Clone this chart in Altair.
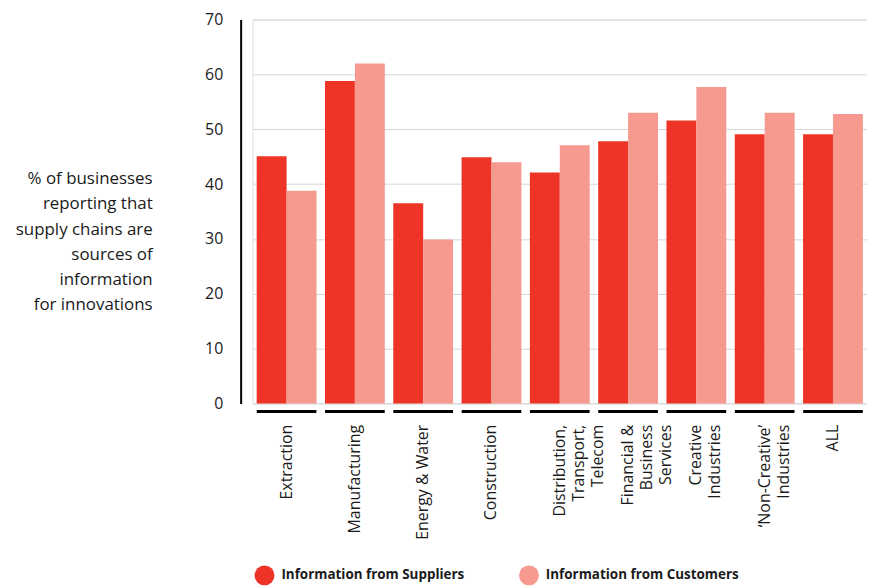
import altair as alt
import pandas as pd

categories = [
    "Extraction",
    "Manufacturing",
    "Energy & Water",
    "Construction",
    "Distribution,\nTransport,\nTelecom",
    "Financial &\nBusiness\nServices",
    "Creative\nIndustries",
    "\u2018Non-Creative\u2019\nIndustries",
    "ALL",
]
suppliers = [45.1, 58.8, 36.5, 44.9, 42.1, 47.8, 51.6, 49.1, 49.1]
customers = [38.8, 62.0, 29.9, 44.0, 47.1, 53.0, 57.7, 53.0, 52.8]
series_names = ["Information from Suppliers", "Information from Customers"]
series_colors = ["#EE3427", "#F6998F"]
y_ticks = [0, 10, 20, 30, 40, 50, 60, 70]
y_title = [
    "% of businesses",
    "reporting that",
    "supply chains are",
    "sources of",
    "information",
    "for innovations",
]

rows = []
for i, c in enumerate(categories):
    rows.append({"cat": c, "series": series_names[0], "order": 0, "value": suppliers[i]})
    rows.append({"cat": c, "series": series_names[1], "order": 1, "value": customers[i]})
df = pd.DataFrame(rows)

FONT = "Open Sans"

x_enc = alt.X(
    "cat:N",
    sort=categories,
    scale=alt.Scale(paddingInner=0.124, paddingOuter=0.06),
    axis=alt.Axis(
        title=None,
        labelAngle=-90,
        labelAlign="right",
        labelBaseline="middle",
        labelPadding=21,
        labelFontSize=16,
        labelLineHeight=19,
        labelColor="#1a1a1a",
        labelFont=FONT,
        labelExpr="split(datum.label, '\\n')",
        domain=False,
        ticks=False,
        grid=False,
    ),
)

bars = alt.Chart(df).mark_bar().encode(
    x=x_enc,
    xOffset=alt.XOffset("series:N", sort=series_names, scale=alt.Scale(paddingInner=0, paddingOuter=0)),
    y=alt.Y(
        "value:Q",
        scale=alt.Scale(domain=[0, 70], nice=False),
        axis=alt.Axis(
            values=y_ticks,
            title=y_title,
            titleAngle=0,
            titleAlign="right",
            titleBaseline="middle",
            titleX=-89,
            titleY=160,
            titleFontSize=17,
            titleFontWeight="normal",
            titleLineHeight=25.4,
            titleFont=FONT,
            titleColor="#1a1a1a",
            labelFontSize=16,
            labelFont=FONT,
            labelColor="#1a1a1a",
            labelPadding=18,
            offset=12,
            domainColor="#000000",
            domainWidth=2,
            ticks=False,
            gridColor="#d6d6d6",
            gridWidth=1,
        ),
    ),
    color=alt.Color(
        "series:N",
        sort=series_names,
        scale=alt.Scale(domain=series_names, range=series_colors),
        legend=alt.Legend(
            orient="none",
            legendX=2,
            legendY=549,
            direction="horizontal",
            title=None,
            symbolType="circle",
            symbolSize=400,
            symbolStrokeWidth=0,
            labelFontSize=13.5,
            labelFontWeight="bold",
            labelFont=FONT,
            labelColor="#1a1a1a",
            labelOffset=7,
            labelLimit=0,
            columnPadding=54,
            padding=0,
        ),
    ),
)

underline = alt.Chart(df).transform_filter(
    alt.datum.order == 0
).mark_tick(orient="horizontal", thickness=3, size=60, color="#000000", opacity=1).encode(
    x=alt.X("cat:N", sort=categories),
    y=alt.YDatum(-1.5),
)

chart = alt.layer(bars, underline).properties(
    width=618,
    height=386,
    autosize=alt.AutoSizeParams(type="none"),
    padding={"left": 246, "top": 10, "right": 0, "bottom": 183},
).configure_view(stroke=None).configure(font=FONT)

chart.save("out.html", embed_options={"renderer": "svg", "actions": False})
